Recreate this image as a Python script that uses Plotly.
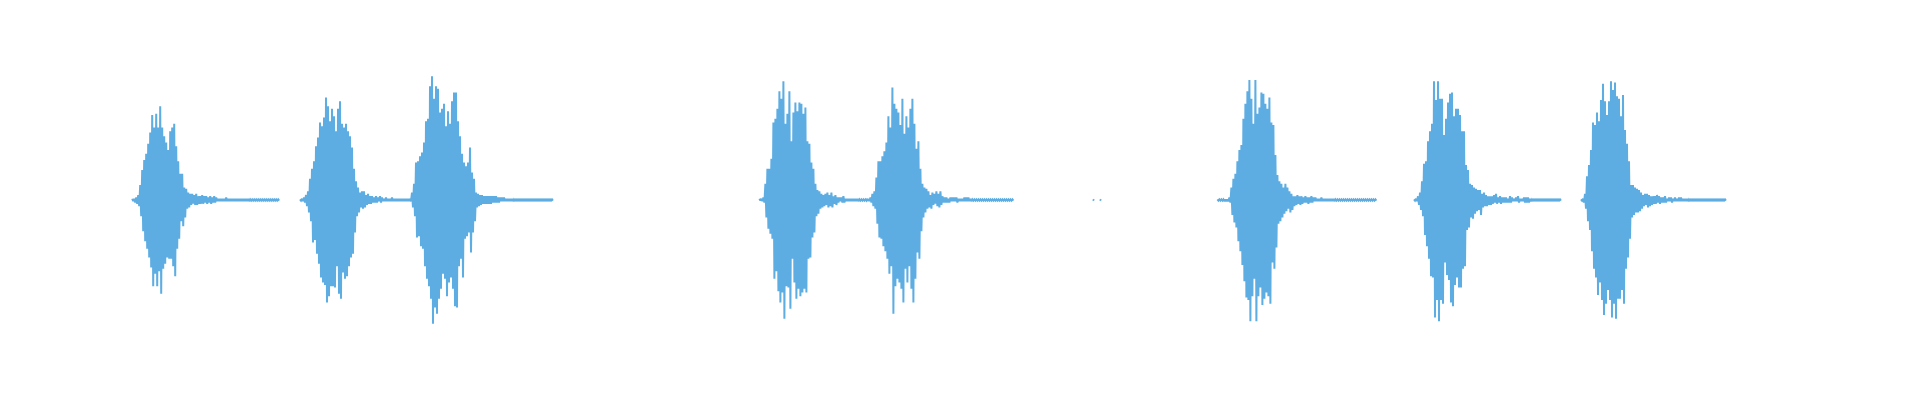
import plotly.graph_objects as go

# Waveform envelope: per burst an onset time (s),
# and peak values above / below zero per 10 ms bin, in percent of full scale.
DT = 0.01
WAVE_COLOR = "#5DADE2"

onsets = [0.661, 1.500, 2.050, 3.797, 4.342, 6.087, 7.070, 7.905]

burst1_up = [1, 1, 2, 4, 12, 24, 32, 37, 45, 54, 68, 58, 69, 58, 75, 58, 51, 46, 40, 55,
             58, 61, 43, 31, 21, 21, 10, 9, 6, 5, 5, 4, 5, 3, 3, 4, 3, 3, 2, 3,
             2, 3, 2, 1, 1, 1, 1, 2, 1, 1, 1, 1, 1, 1, 1, 1, 1, 1, 1, 0.5,
             0.5, 0.5, 0.5, 0.5, 0.5, 0.5, 0.5, 0.5, 0.5, 0.5, 0.5, 0.5, 0.5, 0.5]
burst1_lo = [1, 2, 3, 5, 13, 25, 33, 39, 46, 54, 69, 59, 69, 57, 75, 55, 51, 46, 47, 47,
             53, 61, 39, 31, 17, 21, 14, 7, 6, 4, 3, 4, 4, 3, 3, 3, 2, 3, 2, 3,
             2, 2, 1, 1, 1, 1, 1, 1, 1, 1, 1, 1, 1, 1, 1, 1, 1, 1, 1, 0.5,
             0.5, 0.5, 0.5, 0.5, 0.5, 0.5, 0.5, 0.5, 0.5, 0.5, 0.5, 0.5, 0.5, 0.5]

burst2_up = [0.5, 1, 2, 4, 7, 17, 25, 31, 43, 50, 62, 59, 66, 82, 75, 63, 73, 67, 55, 73,
             79, 61, 58, 61, 55, 51, 42, 25, 15, 10, 6, 7, 7, 4, 5, 3, 3, 2, 3, 2,
             3, 2, 1, 2, 1, 1, 2, 1, 1, 1, 1, 1, 1, 1, 1, 1]
burst2_lo = [0.5, 1, 2, 5, 10, 17, 34, 32, 43, 51, 62, 66, 68, 82, 77, 69, 69, 70, 53, 75,
             79, 58, 63, 61, 53, 46, 43, 26, 13, 10, 6, 7, 6, 4, 3, 3, 2, 2, 2, 1,
             2, 1, 1, 1, 1, 1, 1, 1, 1, 1, 1, 1, 1, 1, 1, 1]

burst3_up = [1, 6, 13, 30, 31, 35, 38, 46, 63, 65, 91, 99, 81, 91, 89, 70, 73, 77, 59, 71,
             61, 79, 86, 86, 63, 51, 37, 30, 27, 30, 42, 22, 17, 6, 5, 4, 4, 3, 3, 3,
             3, 3, 3, 3, 2, 2, 2, 2, 1, 1, 1, 1, 0.5, 0.5, 0.5, 0.5, 0.5, 0.5, 0.5, 0.5,
             0.5, 0.5, 0.5, 0.5, 0.5, 0.5, 0.5, 0.5, 0.5, 0.5, 0.5, 0.5]
burst3_lo = [1, 6, 13, 30, 29, 37, 39, 53, 63, 69, 79, 99, 86, 91, 79, 71, 59, 63, 77, 66,
             62, 71, 85, 86, 53, 47, 62, 31, 29, 26, 42, 26, 17, 6, 5, 4, 3, 3, 3, 3,
             3, 2, 2, 2, 2, 1, 1, 1, 1, 1, 1, 1, 0.5, 0.5, 0.5, 0.5, 0.5, 0.5, 0.5, 0.5,
             0.5, 0.5, 0.5, 0.5, 0.5, 0.5, 0.5, 0.5, 0.5, 0.5, 0.5, 0.5]

burst4_up = [1, 1, 2, 13, 25, 25, 33, 62, 65, 73, 87, 81, 95, 61, 69, 87, 47, 70, 78, 71,
             78, 77, 69, 74, 47, 45, 30, 25, 13, 8, 7, 5, 4, 5, 6, 4, 6, 3, 4, 2,
             2, 2, 3, 1, 1, 1, 1, 1, 1, 1, 0.5, 0.5, 0.5, 0.5, 1]
burst4_lo = [0.5, 1, 2, 14, 23, 27, 31, 63, 57, 73, 82, 74, 95, 69, 70, 87, 47, 66, 79, 71,
             77, 74, 71, 74, 47, 46, 30, 26, 13, 11, 7, 6, 5, 4, 6, 5, 6, 3, 4, 2,
             1, 2, 2, 1, 1, 1, 1, 1, 1, 1, 0.5, 0.5, 0.5, 0.5, 1]

burst5_up = [1, 2, 5, 7, 18, 31, 31, 35, 39, 46, 67, 58, 90, 77, 73, 70, 60, 81, 53, 67,
             58, 73, 81, 61, 41, 47, 25, 13, 10, 9, 7, 4, 6, 5, 7, 5, 7, 3, 2, 2,
             1, 2, 2, 2, 2, 1, 1, 1, 2, 2, 2, 1, 0.5, 0.5, 0.5, 0.5, 0.5, 0.5, 0.5, 0.5,
             0.5, 0.5, 0.5, 0.5, 0.5, 0.5, 0.5, 0.5, 0.5, 0.5, 0.5, 0.5, 0.5]
burst5_lo = [1, 2, 5, 7, 19, 30, 31, 37, 41, 47, 59, 53, 91, 69, 63, 66, 71, 82, 55, 66,
             53, 71, 82, 63, 42, 47, 25, 14, 10, 7, 6, 7, 4, 3, 5, 6, 4, 2, 2, 2,
             2, 1, 1, 1, 2, 1, 1, 1, 1, 1, 1, 1, 0.5, 0.5, 0.5, 0.5, 0.5, 0.5, 0.5, 0.5,
             0.5, 0.5, 0.5, 0.5, 0.5, 0.5, 0.5, 0.5, 0.5, 0.5, 0.5, 0.5, 0.5]

burst6_up = [0.5, 0.5, 0.5, 0.5, 0.5, 0.5, 2, 10, 17, 21, 31, 40, 44, 65, 77, 87, 96, 81, 61, 96,
             69, 74, 86, 85, 77, 73, 82, 62, 60, 36, 20, 15, 13, 10, 13, 10, 7, 5, 3, 3,
             4, 3, 3, 2, 3, 2, 2, 3, 2, 2, 1, 1, 2, 1, 1, 1, 1, 1, 1, 0.5,
             0.5, 0.5, 0.5, 0.5, 0.5, 0.5, 0.5, 0.5, 0.5, 0.5, 0.5, 0.5, 0.5, 0.5, 0.5, 0.5,
             0.5, 0.5, 0.5, 0.5]
burst6_lo = [0.5, 0.5, 0.5, 1, 1, 1, 2, 12, 18, 22, 33, 41, 52, 65, 78, 80, 97, 77, 63, 97,
             77, 70, 84, 79, 74, 77, 83, 50, 55, 38, 19, 17, 14, 11, 9, 7, 10, 8, 5, 4,
             3, 4, 3, 2, 2, 3, 2, 2, 1, 1, 1, 1, 1, 1, 1, 1, 1, 1, 1, 0.5,
             0.5, 0.5, 0.5, 0.5, 0.5, 0.5, 0.5, 0.5, 0.5, 0.5, 0.5, 0.5, 0.5, 0.5, 0.5, 0.5,
             0.5, 0.5, 0.5, 0.5]

burst7_up = [0.5, 1, 3, 6, 15, 29, 31, 47, 55, 61, 95, 80, 95, 81, 81, 52, 65, 78, 85, 86,
             67, 73, 73, 68, 55, 55, 28, 24, 13, 12, 10, 9, 8, 8, 5, 6, 4, 3, 3, 3,
             4, 5, 2, 3, 2, 2, 2, 1, 3, 2, 1, 2, 3, 1, 1, 2, 2, 2, 1, 0.5,
             0.5, 0.5, 0.5, 0.5, 0.5, 0.5, 0.5, 0.5, 0.5, 0.5, 0.5, 0.5, 0.5, 0.5]
burst7_lo = [0.5, 1, 4, 8, 13, 28, 37, 47, 61, 62, 94, 80, 97, 80, 83, 50, 60, 64, 82, 85,
             68, 62, 70, 70, 55, 53, 24, 22, 14, 15, 11, 9, 8, 12, 6, 5, 5, 4, 4, 3,
             2, 3, 2, 3, 2, 2, 2, 2, 2, 1, 1, 1, 2, 1, 1, 2, 2, 2, 1, 0.5,
             0.5, 0.5, 0.5, 0.5, 0.5, 0.5, 0.5, 0.5, 0.5, 0.5, 0.5, 0.5, 0.5, 0.5]

burst8_up = [0.5, 1, 5, 19, 28, 40, 62, 60, 70, 63, 80, 93, 79, 68, 79, 95, 88, 94, 83, 81,
             67, 84, 56, 45, 31, 12, 12, 10, 9, 8, 6, 4, 5, 5, 4, 3, 3, 3, 4, 3,
             2, 2, 3, 1, 2, 2, 1, 2, 1, 2, 2, 1, 1, 1, 0.5, 0.5, 0.5, 0.5, 0.5, 0.5,
             0.5, 0.5, 0.5, 0.5, 0.5, 0.5, 0.5, 0.5, 0.5, 0.5, 0.5, 0.5, 0.5]
burst8_lo = [0.5, 2, 7, 17, 24, 41, 55, 62, 76, 66, 80, 92, 83, 72, 80, 94, 83, 95, 79, 79,
             72, 83, 55, 46, 31, 14, 12, 10, 10, 9, 7, 5, 4, 6, 5, 4, 3, 3, 2, 3,
             2, 2, 2, 1, 1, 2, 1, 1, 1, 1, 1, 1, 1, 1, 0.5, 0.5, 0.5, 0.5, 0.5, 0.5,
             0.5, 0.5, 0.5, 0.5, 0.5, 0.5, 0.5, 0.5, 0.5, 0.5, 0.5, 0.5, 0.5]

blip_times = [5.465, 5.500]
blip_up = [0.5, 0.5]
blip_lo = [0.5, 0.5]

uppers = [burst1_up, burst2_up, burst3_up, burst4_up, burst5_up, burst6_up, burst7_up, burst8_up]
lowers = [burst1_lo, burst2_lo, burst3_lo, burst4_lo, burst5_lo, burst6_lo, burst7_lo, burst8_lo]

# zig-zag path: peak above zero, then peak below zero, within each bin
xs, ys = [], []
for t0, up, lo in zip(onsets, uppers, lowers):
    for k, (u, l) in enumerate(zip(up, lo)):
        xs += [t0 + k * DT, t0 + (k + 0.5) * DT]
        ys += [u / 100.0, -l / 100.0]
    xs.append(None)
    ys.append(None)
for t, u, l in zip(blip_times, blip_up, blip_lo):
    xs += [t, t + DT * 0.5, None]
    ys += [u / 100.0, -l / 100.0, None]

fig = go.Figure(go.Scatter(
    x=xs, y=ys, mode="lines",
    line=dict(color=WAVE_COLOR, width=2),
    connectgaps=False, hoverinfo="skip", showlegend=False,
))
fig.update_layout(
    width=1920, height=400, autosize=False,
    margin=dict(l=0, r=0, t=0, b=0),
    paper_bgcolor="white", plot_bgcolor="white",
    xaxis=dict(range=[0, 9.6], visible=False, fixedrange=True),
    yaxis=dict(range=[-1.6, 1.6], visible=False, fixedrange=True),
)
fig.write_html("out.html", include_plotlyjs=True,
               config={"displayModeBar": False},
               post_script="document.body.style.margin='0';")
